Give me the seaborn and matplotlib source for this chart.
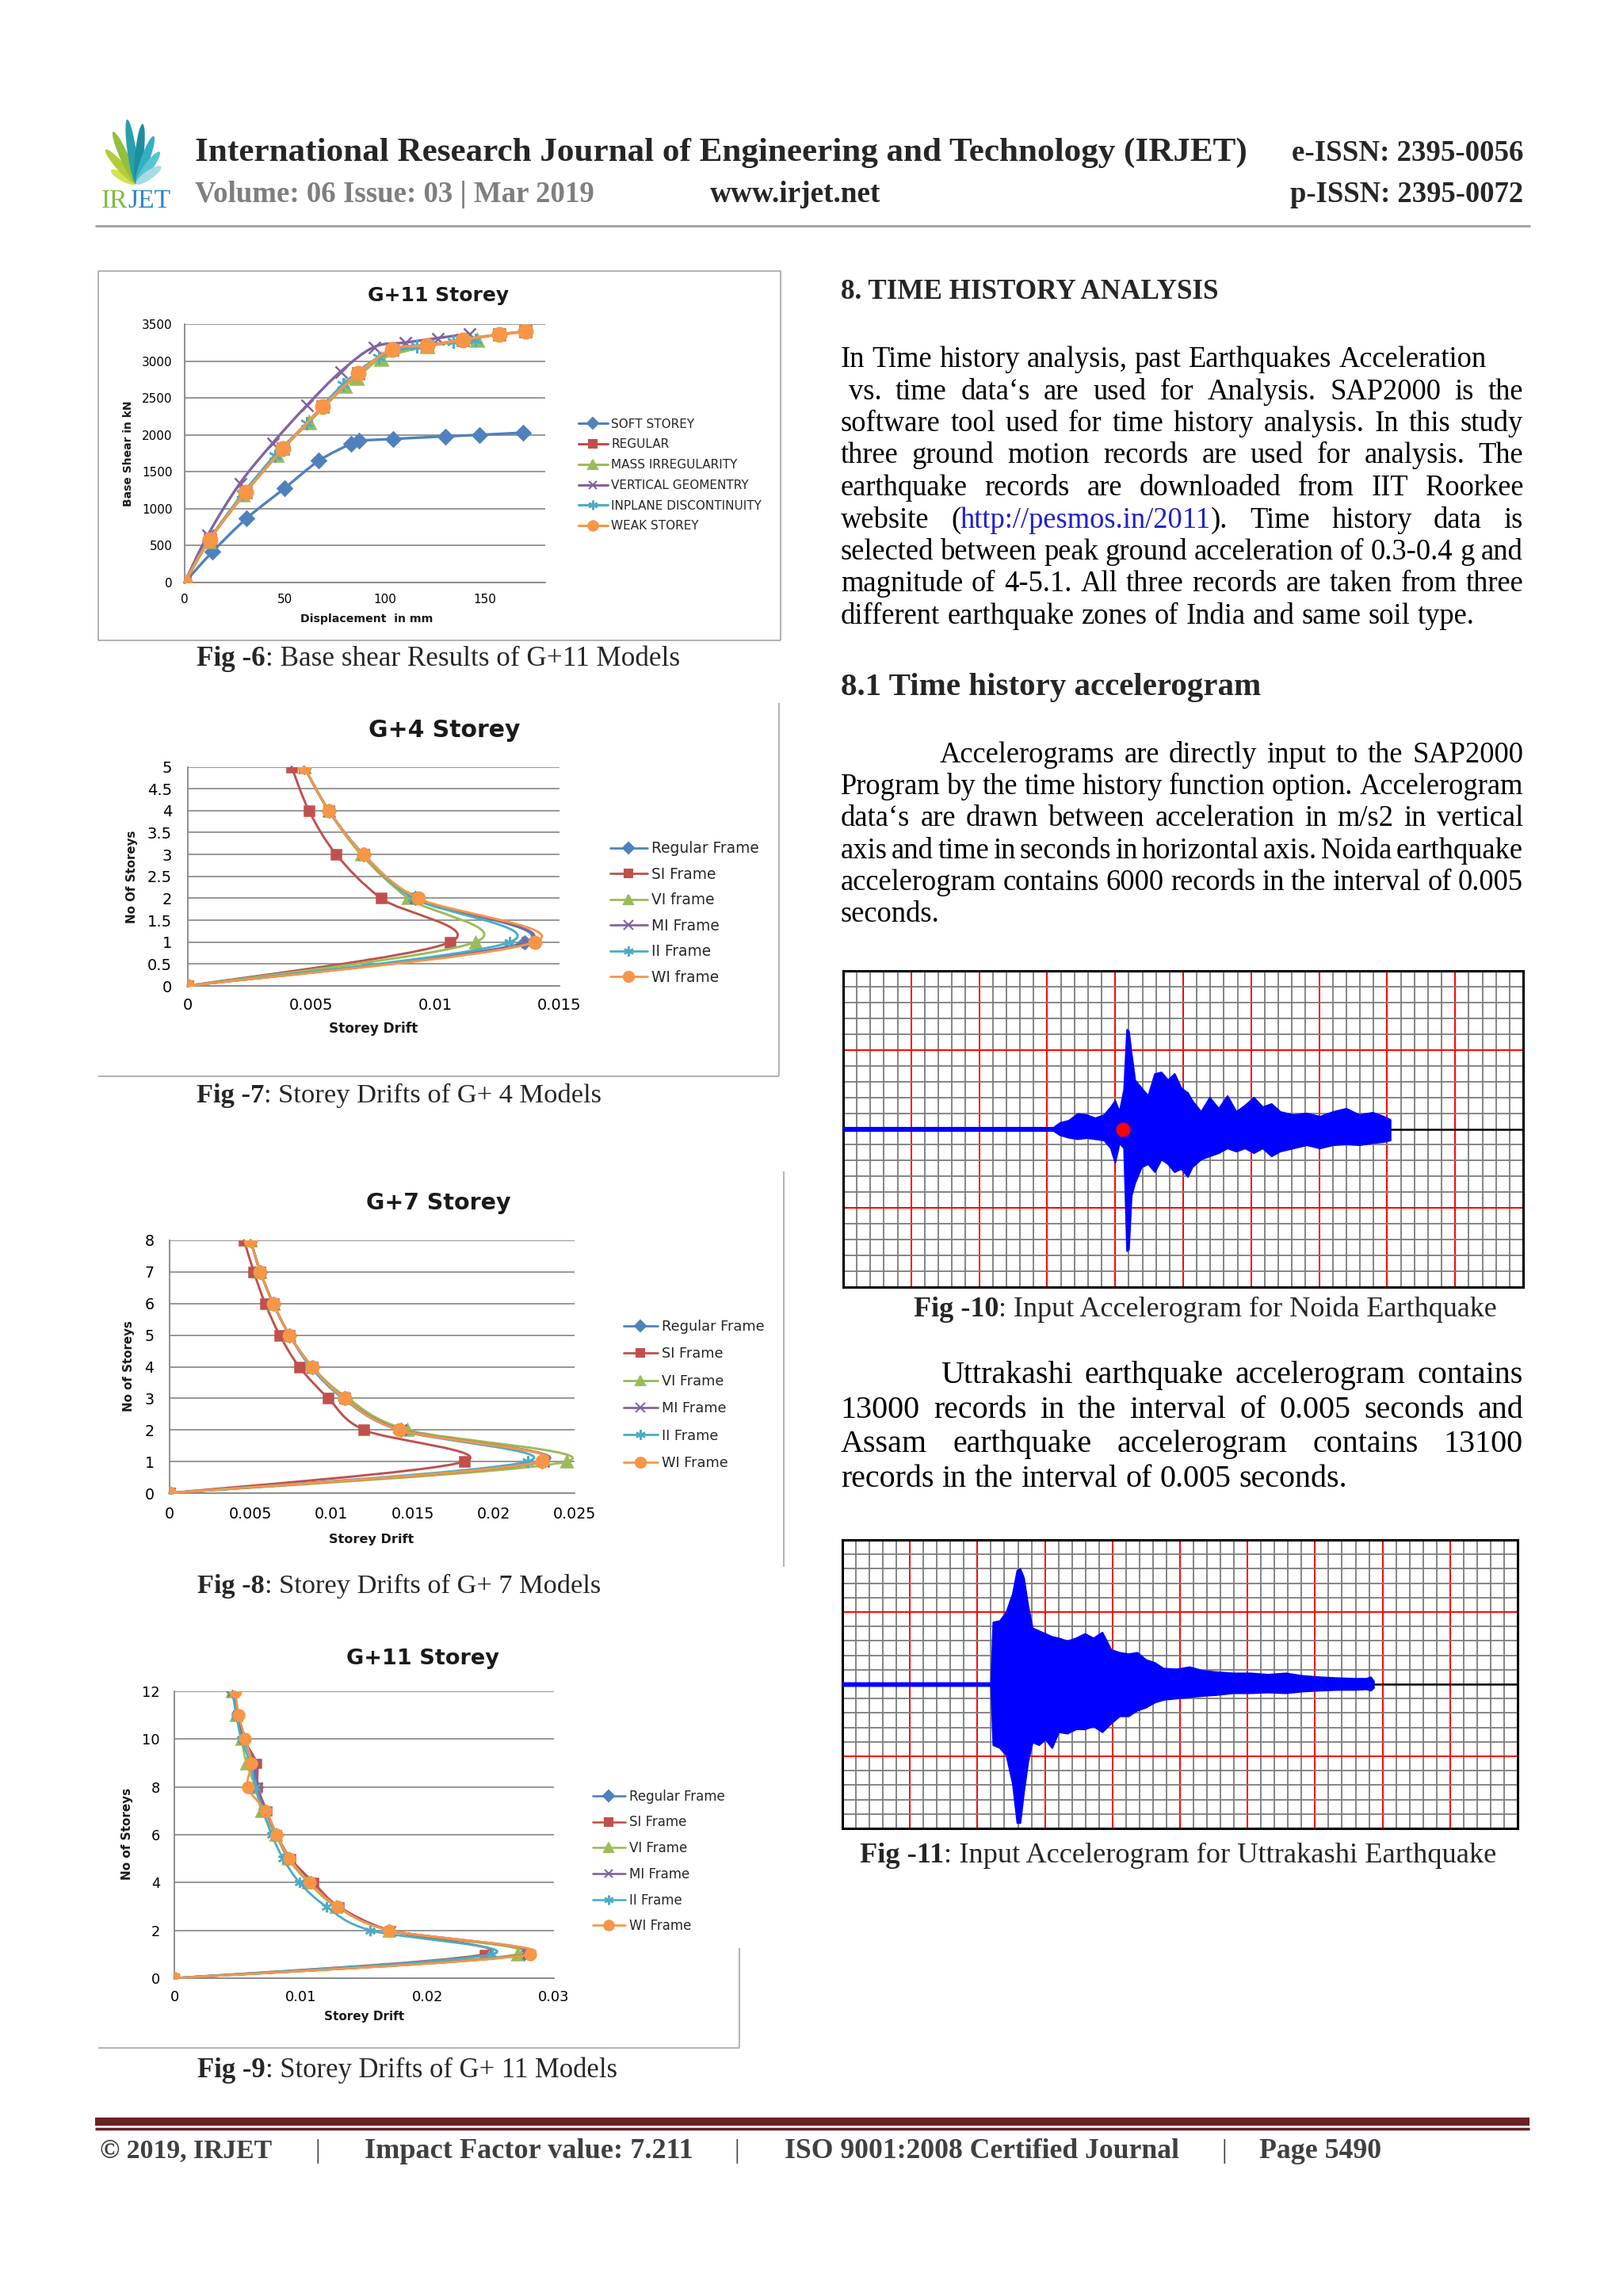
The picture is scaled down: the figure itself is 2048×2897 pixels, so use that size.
import numpy as np
import seaborn as sns
import matplotlib.pyplot as plt
from matplotlib.path import Path
from matplotlib.patches import PathPatch, Ellipse
from matplotlib.lines import Line2D

# ---------------- values ----------------
# Fig 6: base shear (kN) against displacement (mm), G+11 models
shear_names = ["SOFT STOREY", "REGULAR", "MASS IRREGULARITY",
               "VERTICAL GEOMENTRY", "INPLANE DISCONTINUITY", "WEAK STOREY"]
soft_disp = [0, 14, 31, 50, 67, 83, 87, 104, 130, 147, 169]
soft_shear = [0, 420, 870, 1280, 1650, 1880, 1920, 1945, 1980, 2000, 2030]
regular_disp = [0, 12.5, 30.5, 49, 69, 86.5, 103.5, 121, 139, 157, 170]
regular_shear = [0, 580, 1225, 1810, 2380, 2830, 3160, 3210, 3290, 3360, 3400]
mass_disp = [0, 12, 29, 46, 62, 80, 86, 98, 121, 146]
mass_shear = [0, 560, 1190, 1730, 2170, 2660, 2770, 3030, 3200, 3285]
vert_disp = [0, 11.5, 27.5, 44, 61, 78, 94.5, 110, 126, 142]
vert_shear = [0, 640, 1340, 1890, 2400, 2860, 3190, 3250, 3310, 3370]
inplane_disp = [0, 12, 29, 45, 61, 79, 97, 116, 134, 145]
inplane_shear = [0, 570, 1200, 1720, 2160, 2680, 3050, 3200, 3260, 3290]
weak_disp = [0, 12.5, 30.5, 49, 69, 86.5, 103.5, 121, 139, 157, 170]
weak_shear = [0, 580, 1225, 1810, 2380, 2830, 3160, 3210, 3290, 3360, 3400]
shear_xticks = [0, 50, 100, 150]
shear_yticks = [0, 500, 1000, 1500, 2000, 2500, 3000, 3500]

# storey drift charts
frames_g4 = ["Regular Frame", "SI Frame", "VI frame", "MI Frame", "II Frame", "WI frame"]
frames = ["Regular Frame", "SI Frame", "VI Frame", "MI Frame", "II Frame", "WI Frame"]

g4_storey = [0, 1, 2, 3, 4, 5]
g4_regular = [0, 0.0136, 0.0092, 0.0071, 0.0057, 0.0047]
g4_si = [0, 0.0106, 0.0078, 0.0060, 0.0049, 0.0042]
g4_vi = [0, 0.0116, 0.0089, 0.0070, 0.0057, 0.0047]
g4_mi = [0, 0.0137, 0.0092, 0.0071, 0.0057, 0.0047]
g4_ii = [0, 0.0130, 0.0091, 0.0071, 0.0057, 0.0047]
g4_wi = [0, 0.0140, 0.0093, 0.0071, 0.0057, 0.0047]
g4_xticks = [0, 0.005, 0.01, 0.015]
g4_xlabels = ["0", "0.005", "0.01", "0.015"]
g4_yticks = [0, 0.5, 1, 1.5, 2, 2.5, 3, 3.5, 4, 4.5, 5]
g4_ylabels = ["0", "0.5", "1", "1.5", "2", "2.5", "3", "3.5", "4", "4.5", "5"]

g7_storey = [0, 1, 2, 3, 4, 5, 6, 7, 8]
g7_regular = [0, 0.0230, 0.0143, 0.0108, 0.0088, 0.0074, 0.0064, 0.0056, 0.0050]
g7_si = [0, 0.0182, 0.0120, 0.0098, 0.0080, 0.0068, 0.0059, 0.0052, 0.0046]
g7_vi = [0, 0.0245, 0.0147, 0.0110, 0.0088, 0.0074, 0.0064, 0.0056, 0.0050]
g7_mi = [0, 0.0231, 0.0143, 0.0108, 0.0088, 0.0074, 0.0064, 0.0056, 0.0050]
g7_ii = [0, 0.0221, 0.0141, 0.0107, 0.0087, 0.0074, 0.0064, 0.0056, 0.0050]
g7_wi = [0, 0.0230, 0.0142, 0.0108, 0.0088, 0.0074, 0.0064, 0.0056, 0.0050]
g7_xticks = [0, 0.005, 0.01, 0.015, 0.02, 0.025]
g7_xlabels = ["0", "0.005", "0.01", "0.015", "0.02", "0.025"]
g7_yticks = [0, 1, 2, 3, 4, 5, 6, 7, 8]

g11_storey = [0, 1, 2, 3, 4, 5, 6, 7, 8, 9, 10, 11, 12]
g11_regular = [0, 0.0276, 0.0170, 0.0129, 0.0108, 0.0091, 0.0081, 0.0072, 0.0065, 0.0062, 0.0055, 0.0050, 0.0046]
g11_si = [0, 0.0245, 0.0170, 0.0130, 0.0110, 0.0092, 0.0081, 0.0073, 0.0066, 0.0065, 0.0055, 0.0050, 0.0046]
g11_vi = [0, 0.0271, 0.0170, 0.0128, 0.0106, 0.0090, 0.0080, 0.0069, 0.0064, 0.0057, 0.0053, 0.0049, 0.0046]
g11_mi = [0, 0.0279, 0.0171, 0.0129, 0.0108, 0.0091, 0.0081, 0.0072, 0.0066, 0.0063, 0.0055, 0.0050, 0.0046]
g11_ii = [0, 0.0251, 0.0155, 0.0120, 0.0099, 0.0086, 0.0077, 0.0070, 0.0064, 0.0060, 0.0053, 0.0049, 0.0046]
g11_wi = [0, 0.0281, 0.0170, 0.0129, 0.0107, 0.0091, 0.0081, 0.0072, 0.0058, 0.0061, 0.0056, 0.0051, 0.0048]
g11_xticks = [0, 0.01, 0.02, 0.03]
g11_xlabels = ["0", "0.01", "0.02", "0.03"]
g11_yticks = [0, 2, 4, 6, 8, 10, 12]

# accelerograms: envelope of the trace, time in minor grid cells (50 across),
# amplitude in minor grid cells (10 above / below the base line)
noida_t = [0.0, 15.45, 15.93, 16.58, 17.23, 17.88, 18.52, 19.17, 19.66, 19.98, 20.30, 20.63,
           20.85, 20.98, 21.18, 21.44, 21.92, 22.41, 22.90, 23.38, 23.87, 24.35, 24.84, 25.32,
           25.65, 26.30, 26.94, 27.59, 28.24, 28.89, 29.53, 30.18, 30.83, 31.48, 32.12, 33.10,
           34.07, 35.04, 36.01, 36.98, 37.95, 38.92, 39.73, 40.22]
noida_up = [0.1, 0.1, 0.4, 0.55, 0.97, 0.9, 0.7, 0.9, 1.4, 1.8, 1.1, 2.5, 6.3, 6.2, 4.8, 3.1,
            2.6, 2.1, 3.5, 3.6, 3.1, 3.5, 2.6, 2.3, 1.8, 1.1, 2.0, 1.3, 2.1, 1.1, 1.5, 2.0, 1.4,
            1.6, 1.1, 0.9, 1.0, 0.8, 1.1, 1.3, 0.9, 1.05, 0.8, 0.6]
noida_lo = [-0.1, -0.1, -0.37, -0.53, -0.62, -0.55, -0.62, -0.7, -1.2, -2.1, -0.87, -1.2, -7.7,
            -7.6, -4.2, -3.4, -2.4, -2.2, -2.7, -1.9, -2.2, -2.7, -2.5, -3.0, -2.4, -1.9, -1.7,
            -1.5, -1.2, -1.4, -1.2, -1.5, -1.2, -1.7, -1.4, -1.2, -1.0, -1.2, -1.0, -0.95, -1.0,
            -0.87, -0.8, -0.7]
noida_dot_t = [20.6]
noida_dot_a = [0.0]

utt_t = [0.0, 10.99, 11.15, 11.64, 12.12, 12.60, 12.93, 13.15, 13.41, 13.74, 14.06, 14.54,
         15.03, 15.51, 16.00, 16.64, 17.29, 17.94, 18.58, 19.23, 19.88, 20.52, 21.17, 21.82,
         22.46, 23.11, 23.76, 24.72, 25.69, 26.66, 27.63, 28.93, 30.22, 31.51, 32.81, 34.10,
         35.39, 36.68, 37.98, 38.79, 39.11, 39.33]
utt_up = [0.1, 0.1, 4.3, 4.4, 5.0, 6.3, 7.9, 8.0, 7.4, 5.4, 3.9, 3.7, 3.5, 3.3, 3.2, 3.0, 3.2,
          3.5, 3.2, 3.6, 2.4, 2.2, 2.1, 2.2, 1.7, 1.5, 1.1, 1.05, 1.2, 0.95, 0.86, 0.77, 0.77,
          0.68, 0.77, 0.59, 0.5, 0.44, 0.4, 0.4, 0.5, 0.22]
utt_lo = [-0.1, -0.1, -4.2, -4.4, -4.9, -6.9, -9.6, -9.6, -7.5, -5.3, -4.0, -4.2, -3.8, -4.4,
          -3.3, -3.4, -3.1, -3.1, -2.9, -3.3, -2.7, -2.2, -2.2, -1.8, -1.6, -1.25, -1.06, -0.97,
          -0.88, -0.79, -0.73, -0.6, -0.6, -0.55, -0.6, -0.48, -0.42, -0.37, -0.37, -0.33,
          -0.42, -0.24]

# ---------------- page set-up ----------------
W, H = 2048, 2897
sns.set_theme(style="white")
plt.rcParams['font.family'] = ['DejaVu Sans']
SERIF = ['Liberation Serif', 'DejaVu Serif']
SANS = ['DejaVu Sans']
COLORS = ['#4F81BD', '#C0504D', '#9BBB59', '#8064A2', '#4BACC6', '#F79646']
MARKERS = ['D', 's', '^', 'x', (6, 2, 0), 'o']
MSCALE = [0.8, 0.8, 1.0, 0.9, 1.0, 1.05]

fig = plt.figure(figsize=(W / 100, H / 100), dpi=100)
fig.patch.set_facecolor('white')
R = fig.canvas.get_renderer()


def fx(x):
    return x / W


def fy(y):
    return 1 - y / H


def txt(x, y, s, **kw):
    kw.setdefault('va', 'baseline')
    return fig.text(fx(x), fy(y), s, **kw)


def width(t):
    return t.get_window_extent(R).width


def run(x0, y, pieces, size, x1=None, family=SERIF):
    arts = [txt(x0, y, s, fontsize=size, family=family, **kw) for s, kw in pieces]
    if x1 is not None:
        k = (x1 - x0) / sum(width(a) for a in arts)
        for a in arts:
            a.set_fontsize(size * k)
    x = x0
    for a in arts:
        a.set_x(fx(x))
        x += width(a)
    return arts


def hline(x0, x1, y, color, lw):
    fig.add_artist(Line2D([fx(x0), fx(x1)], [fy(y), fy(y)], transform=fig.transFigure,
                          color=color, lw=lw, solid_capstyle='butt'))


def vline(x, y0, y1, color, lw):
    fig.add_artist(Line2D([fx(x), fx(x)], [fy(y0), fy(y1)], transform=fig.transFigure,
                          color=color, lw=lw, solid_capstyle='butt'))


def make_axes(l, r, t, b):
    return fig.add_axes([fx(l), fy(b), (r - l) / W, (b - t) / H])


def fitted_size(s, target, bold=False):
    t = txt(0, 0, s, fontsize=25, family=SERIF, fontweight='bold' if bold else 'normal')
    size = 25 * target / width(t)
    t.remove()
    return size


def text_line(y, x0, x1, s, size, justify=True):
    words = []
    for w in s.split():
        if 'http' in w:
            a, rest = w.split('http')
            url, b = ('http' + rest).rsplit(')', 1)
            words.append([(a, 'black'), (url, '#2020CC'), (')' + b, 'black')])
        else:
            words.append([(w, 'black')])
    for _ in range(2):
        groups = []
        for pieces in words:
            g = [(txt(0, y, p, fontsize=size, family=SERIF, color=c)) for p, c in pieces if p]
            groups.append(g)
        ws = [sum(width(t) for t in g) for g in groups]
        em = size * 100 / 72
        gap = (x1 - x0 - sum(ws)) / (len(ws) - 1) if justify else 0.25 * em
        if gap >= 0.14 * em or not justify:
            break
        for g in groups:
            for t in g:
                t.remove()
        size *= (x1 - x0 - 0.16 * em * (len(ws) - 1)) / sum(ws)
    x = x0
    for g, wg in zip(groups, ws):
        xx = x
        for t in g:
            t.set_x(fx(xx))
            xx += width(t)
        x += wg + gap


def smooth_line(ax, xs, ys, color, lw, z):
    # Excel-style smoothed line through the data points
    p = np.column_stack([xs, ys]).astype(float)
    n = len(p)
    verts, codes = [p[0]], [Path.MOVETO]
    for i in range(n - 1):
        a, b, c, d = p[max(i - 1, 0)], p[i], p[i + 1], p[min(i + 2, n - 1)]
        verts += [b + (c - a) / 6, c - (d - b) / 6, c]
        codes += [Path.CURVE4] * 3
    ax.add_patch(PathPatch(Path(verts, codes), fc='none', ec=color, lw=lw, zorder=z,
                           clip_on=False, capstyle='round', joinstyle='round'))


def draw_series(ax, xs, ys, i, ms, lw):
    c = COLORS[i]
    smooth_line(ax, xs, ys, c, lw, 3 + i)
    sns.lineplot(x=xs, y=ys, ax=ax, sort=False, estimator=None, color=c,
                 marker=MARKERS[i], markersize=ms * MSCALE[i], markeredgecolor=c,
                 markeredgewidth=1.8, linewidth=0, legend=False, zorder=3.5 + i)


def style_axes(ax, xlim, ylim, xticks, xlabels, yticks, ylabels, fs, xpad, ypad):
    ax.set_xlim(*xlim)
    ax.set_ylim(*ylim)
    ax.set_xticks(xticks, labels=xlabels)
    ax.set_yticks(yticks, labels=ylabels)
    ax.tick_params(axis='both', length=0, labelsize=fs, labelcolor='black')
    ax.tick_params(axis='x', pad=xpad)
    ax.tick_params(axis='y', pad=ypad)
    ax.set_facecolor('none')
    ax.yaxis.grid(True, color='#8F8F8F', lw=1.3)
    ax.xaxis.grid(False)
    ax.set_axisbelow(True)
    for side in ['top', 'right']:
        ax.spines[side].set_visible(False)
    for side in ['left', 'bottom']:
        ax.spines[side].set_color('#868686')
        ax.spines[side].set_linewidth(1.3)
    ax.set_xlabel('')
    ax.set_ylabel('')


def legend(ax, labels, x, y0, y1, fs, hl, lw, ms):
    handles = [Line2D([], [], color=c, lw=lw, marker=m, ms=ms * k, mec=c, mew=1.5)
               for c, m, k in zip(COLORS, MARKERS, MSCALE)]
    fs_px = fs * 100 / 72
    row = (y1 - y0) / (len(labels) - 1)
    ax.legend(handles, labels, loc='center left', bbox_to_anchor=(fx(x), fy((y0 + y1) / 2)),
              bbox_transform=fig.transFigure, frameon=False, fontsize=fs,
              handlelength=hl, handletextpad=0.3, labelspacing=row / fs_px - 1.17,
              borderpad=0, borderaxespad=0, numpoints=1)


def labels(title, txy, tfs, ylab, yxy, yfs, xlab, xxy, xfs):
    fig.text(fx(txy[0]), fy(txy[1]), title, ha='center', va='center', fontsize=tfs,
             fontweight='bold', color='#1A1A1A', family=SANS)
    fig.text(fx(yxy[0]), fy(yxy[1]), ylab, ha='center', va='center', rotation=90,
             fontsize=yfs, fontweight='bold', color='#1A1A1A', family=SANS)
    fig.text(fx(xxy[0]), fy(xxy[1]), xlab, ha='center', va='center', fontsize=xfs,
             fontweight='bold', color='#1A1A1A', family=SANS)


# ---------------- header ----------------
lax = make_axes(112, 232, 145, 272)
lax.set_xlim(112, 232)
lax.set_ylim(272, 145)
lax.axis('off')
leaf_angle = [-62, -42, -24, -8, 6, 20, 36, 55]
leaf_len = [36, 58, 72, 82, 76, 64, 50, 38]
leaf_col = ['#D4E157', '#B5CC3A', '#93BF3E', '#2A9FAE', '#1C8E9E', '#34AFC2', '#59C4D3', '#A6DCE4']
for a, L, c in zip(leaf_angle, leaf_len, leaf_col):
    r = np.radians(a)
    lax.add_patch(Ellipse((172 + np.sin(r) * L / 2, 232 - np.cos(r) * L / 2), 11, L,
                          angle=a, color=c, lw=0))
run(128, 262, [("IR", dict(color='#7DBB42')), ("JET", dict(color='#2E86C1'))], 20, x1=216)

run(246, 203, [("International Research Journal of Engineering and Technology (IRJET)",
                dict(fontweight='bold'))], 28, x1=1576)
run(1630, 203, [("e-ISSN: 2395-0056", dict(fontweight='bold'))], 26, x1=1922)
run(246, 255, [("Volume: 06 Issue: 03 | Mar 2019", dict(fontweight='bold', color='#7F7F7F'))],
    26, x1=750)
run(896, 255, [("www.irjet.net", dict(fontweight='bold'))], 26, x1=1112)
run(1628, 255, [("p-ISSN: 2395-0072", dict(fontweight='bold'))], 26, x1=1922)
hline(120, 1931, 285, '#A6A6A6', 2.2)

# ---------------- Fig 6 ----------------
hline(124, 985, 342, '#A6A6A6', 1.2)
hline(124, 985, 808, '#A6A6A6', 1.2)
vline(124, 342, 808, '#A6A6A6', 1.2)
vline(985, 342, 808, '#A6A6A6', 1.2)
ax6 = make_axes(233, 688, 409, 735)
shear_x = [soft_disp, regular_disp, mass_disp, vert_disp, inplane_disp, weak_disp]
shear_y = [soft_shear, regular_shear, mass_shear, vert_shear, inplane_shear, weak_shear]
for i, (xs, ys) in enumerate(zip(shear_x, shear_y)):
    draw_series(ax6, xs, ys, i, 12, 2.4)
style_axes(ax6, (0, 180), (0, 3500), shear_xticks, [str(v) for v in shear_xticks],
           shear_yticks, [str(v) for v in shear_yticks], 11, 10, 11)
legend(ax6, shear_names, 730, 528, 671, 11, 2.4, 2.2, 8.5)
labels("G+11 Storey", (553, 373), 18, "Base Shear in kN", (162, 572), 10,
       "Displacement  in mm", (463, 781), 10.2)
run(248, 840, [("Fig -6", dict(fontweight='bold')), (": Base shear Results of G+11 Models", {})],
    25, x1=858)

# ---------------- Fig 7 ----------------
vline(983, 887, 1358, '#A6A6A6', 1.2)
hline(124, 983, 1358, '#A6A6A6', 1.2)
ax7 = make_axes(236.5, 706, 967.5, 1244)
for i, xs in enumerate([g4_regular, g4_si, g4_vi, g4_mi, g4_ii, g4_wi]):
    draw_series(ax7, xs, g4_storey, i, 10.5, 2.1)
style_axes(ax7, (0, 0.015), (0, 5), g4_xticks, g4_xlabels, g4_yticks, g4_ylabels, 14, 11, 14)
legend(ax7, frames_g4, 770, 1064, 1240, 13.4, 2.5, 2.0, 9)
labels("G+4 Storey", (561, 922), 21.5, "No Of Storeys", (167, 1106), 10.8,
       "Storey Drift", (471, 1298), 12.2)
run(248, 1391, [("Fig -7", dict(fontweight='bold')), (": Storey Drifts of G+ 4 Models", {})],
    25, x1=760)

# ---------------- Fig 8 ----------------
vline(989, 1478, 1977, '#A6A6A6', 1.2)
ax8 = make_axes(214, 725, 1565, 1884)
for i, xs in enumerate([g7_regular, g7_si, g7_vi, g7_mi, g7_ii, g7_wi]):
    draw_series(ax8, xs, g7_storey, i, 10.5, 2.1)
style_axes(ax8, (0, 0.025), (0, 8), g7_xticks, g7_xlabels, g7_yticks,
           [str(v) for v in g7_yticks], 13.7, 12, 14)
legend(ax8, frames, 787, 1667, 1853, 12.8, 2.4, 2.0, 9)
labels("G+7 Storey", (553, 1518), 20.5, "No of Storeys", (162, 1724), 10.8,
       "Storey Drift", (469, 1942), 11.6)
run(249, 2010, [("Fig -8", dict(fontweight='bold')), (": Storey Drifts of G+ 7 Models", {})],
    25, x1=761)

# ---------------- Fig 9 ----------------
hline(124, 933, 2584, '#A6A6A6', 1.2)
vline(933, 2458, 2584, '#A6A6A6', 1.2)
ax9 = make_axes(220, 699, 2134, 2496)
for i, xs in enumerate([g11_regular, g11_si, g11_vi, g11_mi, g11_ii, g11_wi]):
    draw_series(ax9, xs, g11_storey, i, 9.5, 2.0)
style_axes(ax9, (0, 0.03), (0, 12), g11_xticks, g11_xlabels, g11_yticks,
           [str(v) for v in g11_yticks], 12.8, 11, 13)
legend(ax9, frames, 748, 2263, 2434, 12, 2.45, 1.9, 8.5)
labels("G+11 Storey", (533, 2093), 19.5, "No of Storeys", (161, 2314), 11,
       "Storey Drift", (460, 2545), 11)
run(249, 2621, [("Fig -9", dict(fontweight='bold')), (": Storey Drifts of G+ 11 Models", {})],
    25, x1=780)


# ---------------- accelerograms ----------------
def accelerogram(ax, t, up, lo):
    ax.set_xlim(0, 50)
    ax.set_ylim(-10, 10)
    ax.set_xticks(range(0, 51, 5))
    ax.set_xticks([i for i in range(51) if i % 5], minor=True)
    ax.set_yticks([-5, 5])
    ax.set_yticks([i for i in range(-10, 11) if i % 5], minor=True)
    ax.grid(which='minor', color='#7C7C7C', lw=1.3)
    ax.grid(which='major', color='#FF0000', lw=1.4)
    ax.tick_params(which='both', length=0, labelbottom=False, labelleft=False)
    ax.set_facecolor('white')
    for s in ax.spines.values():
        s.set_color('black')
        s.set_linewidth(2.2)
    ax.axhline(0, color='black', lw=1.8, zorder=2)
    ax.fill_between(t, lo, up, color='#0000FF', lw=1.6, zorder=3)


acc1 = make_axes(1064, 1922, 1225, 1624)
accelerogram(acc1, noida_t, noida_up, noida_lo)
sns.scatterplot(x=noida_dot_t, y=noida_dot_a, ax=acc1, color='#FF0000', s=170, lw=0, zorder=4)
acc2 = make_axes(1063, 1915, 1943, 2307)
accelerogram(acc2, utt_t, utt_up, utt_lo)

# ---------------- right column text ----------------
L, RGT = 1061, 1922
run(L, 377, [("8. TIME HISTORY ANALYSIS", dict(fontweight='bold'))], 26, x1=1538)
body = fitted_size("In Time history analysis, past Earthquakes Acceleration", 816)
para1 = ["In Time history analysis, past Earthquakes Acceleration",
         "vs. time data‘s are used for Analysis. SAP2000 is the",
         "software tool used for time history analysis. In this study",
         "three ground motion records are used for analysis. The",
         "earthquake records are downloaded from IIT Roorkee",
         "website (http://pesmos.in/2011). Time history data is",
         "selected between peak ground acceleration of 0.3-0.4 g and",
         "magnitude of 4-5.1. All three records are taken from three",
         "different earthquake zones of India and same soil type."]
just1 = [False, True, True, True, True, True, True, True, False]
x1s = [L, 1071, L, L, L, L, L, L, L]
for k, (s, j, x0) in enumerate(zip(para1, just1, x1s)):
    text_line(463 + 40.5 * k, x0, RGT, s, body, j)

run(L, 877, [("8.1 Time history accelerogram", dict(fontweight='bold'))], 26, x1=1592)
para2 = ["Accelerograms are directly input to the SAP2000",
         "Program by the time history function option. Accelerogram",
         "data‘s are drawn between acceleration in m/s2 in vertical",
         "axis and time in seconds in horizontal axis. Noida earthquake",
         "accelerogram contains 6000 records in the interval of 0.005",
         "seconds."]
just2 = [True, True, True, True, True, False]
for k, (s, j) in enumerate(zip(para2, just2)):
    text_line(962 + 40.2 * k, 1186 if k == 0 else L, RGT, s, body, j)

run(1153, 1661, [("Fig -10", dict(fontweight='bold')),
                 (": Input Accelerogram for Noida Earthquake", {})], 25, x1=1891)

body3 = fitted_size("records in the interval of 0.005 seconds.", 642)
para3 = ["Uttrakashi earthquake accelerogram contains",
         "13000 records in the interval of 0.005 seconds and",
         "Assam earthquake accelerogram contains 13100",
         "records in the interval of 0.005 seconds."]
just3 = [True, True, True, False]
for k, (s, j) in enumerate(zip(para3, just3)):
    text_line(1745 + 43.7 * k, 1187 if k == 0 else L, RGT, s, body3, j)

run(1085, 2350, [("Fig -11", dict(fontweight='bold')),
                 (": Input Accelerogram for Uttrakashi Earthquake", {})], 25, x1=1891)

# ---------------- footer ----------------
hline(120, 1930, 2677, '#6B1F26', 7.5)
hline(120, 1930, 2685.5, '#6B1F26', 2.5)
FOOT = dict(fontweight='bold', color='#404040')
run(126, 2723, [("© 2019, IRJET", FOOT)], 25, x1=344)
run(460, 2723, [("Impact Factor value: 7.211", FOOT)], 25, x1=874)
run(990, 2723, [("ISO 9001:2008 Certified Journal", FOOT)], 25, x1=1488)
run(1589, 2723, [("Page 5490", FOOT)], 25, x1=1743)
for xs in [401, 930, 1545]:
    txt(xs, 2723, "|", fontsize=24, family=SERIF, color='#404040', ha='center')

fig.savefig("out.png", dpi=100, facecolor='white')
